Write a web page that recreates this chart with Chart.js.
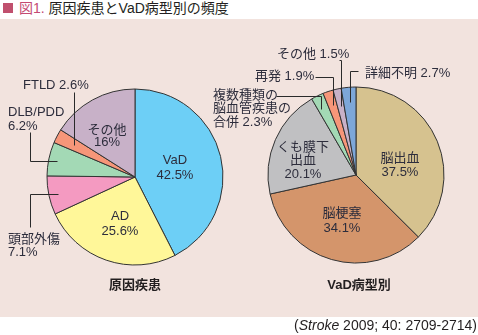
<!DOCTYPE html>
<html>
<head>
<meta charset="utf-8">
<script src="https://cdn.jsdelivr.net/npm/chart.js@4"></script>
<style>
  body { margin: 0; background: #fff; }
  #wrap { position: relative; width: 478px; height: 335px; overflow: hidden;
    font-family: "Liberation Sans", "Noto Sans CJK JP", sans-serif; color: #2d2d3c; }
  #panel { position: absolute; left: 0; top: 19px; width: 478px; height: 298px; background: #f2e3de; }
  #sq { position: absolute; left: 3px; top: 3px; width: 10px; height: 10px; background: #c0506e; }
  #title { position: absolute; left: 19px; top: 0px; font-size: 14px; line-height: 17px; white-space: nowrap; color: #231f20; }
  #title span { color: #c44a72; }
  canvas { position: absolute; top: 19px; }
  .sub { position: absolute; top: 277px; font-size: 13px; font-weight: bold; line-height: 16px; transform: translateX(-50%); white-space: nowrap; color: #231f20; }
  #cite { position: absolute; right: 1px; top: 316px; font-size: 14px; line-height: 18px; white-space: nowrap; color: #231f20; }
</style>
</head>
<body>
<div id="wrap">
  <div id="panel"></div>
  <div id="sq"></div>
  <div id="title"><span>図1.</span> 原因疾患とVaD病型別の頻度</div>
  <canvas id="causeChart" width="240" height="298" style="left:0px"></canvas>
  <canvas id="typeChart" width="278" height="298" style="left:200px"></canvas>
  <div class="sub" style="left:135px">原因疾患</div>
  <div class="sub" style="left:359px">VaD病型別</div>
  <div id="cite">(<i>Stroke</i> 2009; 40: 2709-2714)</div>
</div>
<script>
// 原因疾患
const causeLabels = ['VaD', 'AD', '頭部外傷', 'DLB/PDD', 'FTLD', 'その他'];
const causeValues = [42.5, 25.6, 7.1, 6.2, 2.6, 16];
const causeColors = ['#6dcff6', '#fff799', '#f49ac1', '#a3d9b5', '#f69679', '#c8b1c8'];

// VaD病型別
const typeLabels = ['脳出血', '脳梗塞', 'くも膜下出血', '複数種類の脳血管疾患の合併', '再発', 'その他', '詳細不明'];
const typeValues = [37.5, 34.1, 20.1, 2.3, 1.9, 1.5, 2.7];
const typeColors = ['#d6c28f', '#d4956b', '#c0c0c2', '#a3d9b5', '#f69679', '#c8b1c8', '#7da7d9'];

const FONT = '13px "Liberation Sans", "Noto Sans CJK JP", sans-serif';
const INK = '#2d2d3c';

// ラベルの配置（円の中心からの位置）
const causeLayout = [
  { dx: 40, dy: -17, lh: 15, align: 'center' },
  { dx: -15, dy: 39, lh: 15, align: 'center' },
  { dx: -127, dy: 62, lh: 13.5, align: 'left', lead: { from: [-105, 50], dir: 'v', k: 0.9 } },
  { dx: -127, dy: -65, lh: 14, align: 'left', lead: { from: [-105, -45], dir: 'v', k: 0.9 } },
  { dx: -112, dy: -92, align: 'left', one: true, lead: { from: [-61, -85], dir: 'h', k: 0.78 } },
  { dx: -28, dy: -47, lh: 12.5, align: 'center' }
];
const typeLayout = [
  { dx: 44, dy: -17, lh: 14, align: 'center' },
  { dx: -14, dy: 38, lh: 15, align: 'center' },
  { dx: -53, dy: -28, lh: 13.5, align: 'center', split: ['くも膜下', '出血'] },
  { dx: -143, dy: -80, lh: 13.5, align: 'left', split: ['複数種類の', '脳血管疾患の', '合併'], join: true,
    lead: { from: [-80, -79], dir: 'h', k: 0.85, t: 0.25 } },
  { dx: -101, dy: -99, align: 'left', one: true, lead: { from: [-41, -98], dir: 'h', k: 0.84 } },
  { dx: -79, dy: -121, align: 'left', one: true, lead: { from: [-17, -115], dir: 'h', k: 0.8 } },
  { dx: 9, dy: -102, align: 'left', one: true, lead: { from: [2, -104], dir: 'h', k: 0.83 } }
];

// 扇形ラベルと引き出し線を描くプラグイン
function pieLabels(layout) {
  return {
    id: 'pieLabels',
    afterDatasetsDraw(chart) {
      const ctx = chart.ctx;
      const meta = chart.getDatasetMeta(0);
      const values = chart.data.datasets[0].data;
      const names = chart.data.labels;
      ctx.save();
      ctx.font = FONT;
      ctx.fillStyle = INK;
      ctx.strokeStyle = '#2a2a2a';
      ctx.lineWidth = 1;
      ctx.textBaseline = 'middle';
      layout.forEach((l, i) => {
        const arc = meta.data[i];
        const cx = arc.x, cy = arc.y;
        const pct = values[i] + '%';
        let lines;
        if (l.one) lines = [names[i] + ' ' + pct];
        else if (l.join) lines = l.split.slice(0, -1).concat([l.split[l.split.length - 1] + ' ' + pct]);
        else lines = (l.split || [names[i]]).concat([pct]);
        ctx.textAlign = l.align;
        lines.forEach((s, j) => ctx.fillText(s, cx + l.dx, cy + l.dy + j * (l.lh || 14)));
        if (l.lead) {
          const t = l.lead.t === undefined ? 0.5 : l.lead.t;
          const a = arc.startAngle + t * (arc.endAngle - arc.startAngle);
          const r = arc.outerRadius * l.lead.k;
          const ax = Math.round(cx + r * Math.cos(a)) + 0.5;
          const ay = Math.round(cy + r * Math.sin(a)) + 0.5;
          const fx = Math.round(cx + l.lead.from[0]) + 0.5;
          const fy = Math.round(cy + l.lead.from[1]) + 0.5;
          ctx.beginPath();
          ctx.moveTo(fx, fy);
          if (l.lead.dir === 'v') ctx.lineTo(fx, ay);
          else ctx.lineTo(ax, fy);
          ctx.lineTo(ax, ay);
          ctx.stroke();
        }
      });
      ctx.restore();
    }
  };
}

function makePie(id, labels, values, colors, layout, pad) {
  new Chart(document.getElementById(id), {
    type: 'pie',
    data: {
      labels: labels,
      datasets: [{ data: values, backgroundColor: colors, borderColor: '#333333', borderWidth: 1 }]
    },
    options: {
      responsive: false,
      animation: false,
      devicePixelRatio: 1,
      layout: { padding: pad },
      plugins: { legend: { display: false }, tooltip: { enabled: false } }
    },
    plugins: [pieLabels(layout)]
  });
}

makePie('causeChart', causeLabels, causeValues, causeColors, causeLayout, { left: 46.5, right: 16.5, top: 69.5, bottom: 51.5 });
makePie('typeChart', typeLabels, typeValues, typeColors, typeLayout, { left: 67.5, right: 33.5, top: 67.5, bottom: 53.5 });
</script>
</body>
</html>
